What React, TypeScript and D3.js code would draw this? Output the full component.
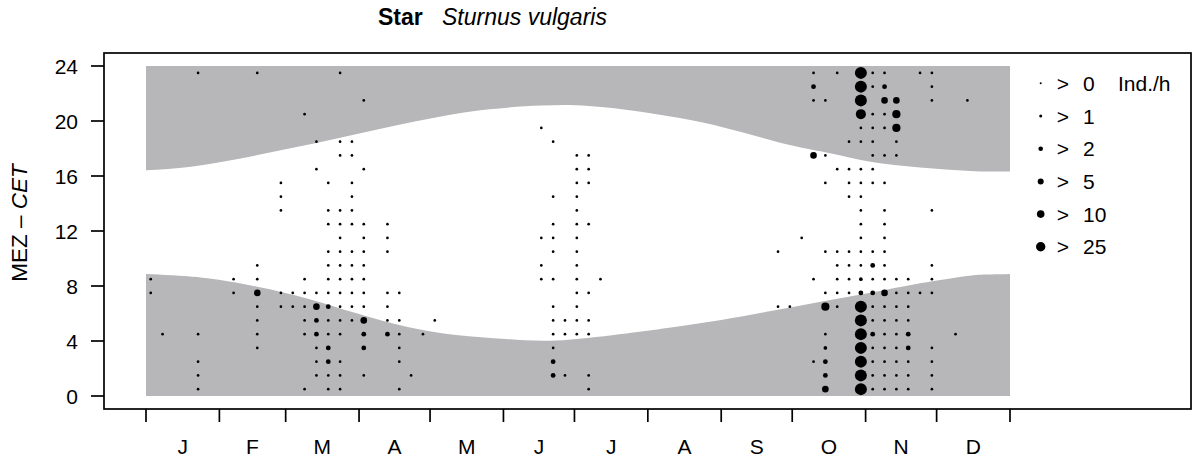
import React from 'react';
import * as d3 from 'd3';

const W = 1196;
const H = 461;

// Axis content
const monthLabels = ['J', 'F', 'M', 'A', 'M', 'J', 'J', 'A', 'S', 'O', 'N', 'D'];
const monthStartDays = [1, 32, 60, 91, 121, 152, 182, 213, 244, 274, 305, 335, 366];
const hourTicks = [0, 4, 8, 12, 16, 20, 24];

// Legend
const legendLabels = ['0', '1', '2', '5', '10', '25'];
const legendRadii = [1.0, 1.5, 2.3, 3.0, 3.8, 4.7];
// radius of the dot size classes used in the plot
const dotRadii = [1.35, 1.85, 2.4, 3.3, 4.1, 5.0, 6.0];

// Night boundaries (hours CET)
const sunriseDays = [1, 12, 27, 48, 69, 90, 111, 132, 153, 174, 201, 222, 244, 265, 286, 307, 328, 349, 358, 366];
const sunriseHours = [8.87, 8.78, 8.56, 7.95, 7.1, 6.01, 5.04, 4.44, 4.15, 4.03, 4.49, 4.97, 5.53, 6.18, 6.86, 7.51, 8.2, 8.75, 8.84, 8.87];
const sunsetDays = [1, 20, 41, 62, 83, 104, 125, 146, 168, 188, 210, 231, 252, 273, 290, 307, 328, 349, 366];
const sunsetHours = [16.42, 16.68, 17.28, 18.01, 18.79, 19.59, 20.31, 20.85, 21.12, 21.1, 20.68, 20.07, 19.22, 18.25, 17.65, 17.04, 16.62, 16.37, 16.32];

// Observations: [pentad (0..72), hour bin (0..23), size class]
const winterSpringCells: [number, number, number][] = [
  [0, 8, 0], [0, 7, 0],
  [1, 4, 0],
  [4, 23, 0], [4, 4, 0], [4, 2, 0], [4, 1, 0], [4, 0, 0],
  [7, 8, 0], [7, 7, 0],
  [9, 23, 0], [9, 9, 0], [9, 8, 0], [9, 7, 3], [9, 6, 0], [9, 5, 0], [9, 4, 0], [9, 3, 0],
  [11, 15, 0], [11, 14, 0], [11, 13, 0], [11, 7, 0], [11, 6, 0],
  [12, 7, 0], [12, 6, 0],
  [13, 20, 0], [13, 8, 0], [13, 7, 0], [13, 6, 0], [13, 5, 0], [13, 4, 0], [13, 0, 0],
  [14, 18, 0], [14, 16, 0], [14, 7, 0], [14, 6, 3], [14, 5, 2], [14, 4, 2], [14, 3, 0], [14, 2, 0], [14, 1, 0],
  [15, 15, 0], [15, 13, 0], [15, 12, 0], [15, 10, 0], [15, 9, 0], [15, 8, 0], [15, 7, 0], [15, 6, 2], [15, 5, 0],
  [15, 4, 0], [15, 3, 2], [15, 2, 2], [15, 1, 0], [15, 0, 0],
  [16, 23, 0], [16, 18, 0], [16, 17, 0], [16, 13, 0], [16, 12, 0], [16, 11, 0], [16, 10, 0], [16, 9, 0], [16, 8, 0],
  [16, 7, 0], [16, 6, 0], [16, 5, 0], [16, 4, 0], [16, 2, 0], [16, 1, 0], [16, 0, 0],
  [17, 18, 0], [17, 17, 0], [17, 15, 0], [17, 14, 0], [17, 13, 0], [17, 12, 0], [17, 10, 0], [17, 9, 0], [17, 8, 0],
  [17, 7, 0], [17, 6, 0], [17, 5, 0],
  [18, 21, 0], [18, 16, 0], [18, 12, 0], [18, 11, 0], [18, 10, 0], [18, 9, 0], [18, 8, 0], [18, 7, 0], [18, 6, 0],
  [18, 5, 3], [18, 4, 2], [18, 3, 2], [18, 1, 0],
  [20, 12, 0], [20, 11, 0], [20, 10, 0], [20, 7, 0], [20, 6, 0], [20, 5, 0], [20, 4, 2],
  [21, 7, 0], [21, 5, 0], [21, 4, 0], [21, 3, 0], [21, 2, 0], [21, 0, 0],
  [22, 1, 0],
  [23, 4, 0],
  [24, 5, 0],
];

const summerCells: [number, number, number][] = [
  [33, 19, 0], [33, 11, 0], [33, 9, 0], [33, 8, 0],
  [34, 18, 0], [34, 14, 0], [34, 12, 0], [34, 11, 0], [34, 10, 0], [34, 8, 0], [34, 6, 0], [34, 5, 0], [34, 4, 0],
  [34, 3, 0], [34, 2, 2], [34, 1, 2],
  [35, 5, 0], [35, 4, 0], [35, 1, 0],
  [36, 17, 0], [36, 16, 0], [36, 15, 0], [36, 14, 0], [36, 13, 0], [36, 12, 0], [36, 11, 0], [36, 10, 0], [36, 9, 0],
  [36, 8, 0], [36, 7, 0], [36, 6, 0], [36, 5, 0], [36, 4, 0],
  [37, 17, 0], [37, 16, 0], [37, 15, 0], [37, 12, 0], [37, 7, 0], [37, 5, 0], [37, 4, 0], [37, 1, 0], [37, 0, 0],
  [38, 8, 0],
];

const autumnCells: [number, number, number][] = [
  [53, 10, 0], [53, 6, 0],
  [54, 6, 0],
  [55, 11, 0],
  [56, 23, 0], [56, 22, 2], [56, 21, 0], [56, 17, 3], [56, 8, 0], [56, 2, 0],
  [57, 21, 0], [57, 17, 0], [57, 15, 0], [57, 10, 0], [57, 7, 0], [57, 6, 4], [57, 4, 0], [57, 3, 1], [57, 2, 2],
  [57, 1, 2], [57, 0, 3],
  [58, 23, 0], [58, 16, 0], [58, 10, 0], [58, 9, 0], [58, 8, 0], [58, 7, 0], [58, 6, 0],
  [59, 18, 0], [59, 16, 0], [59, 15, 0], [59, 14, 0], [59, 10, 0], [59, 9, 0], [59, 8, 0], [59, 7, 0],
  [60, 23, 6], [60, 22, 6], [60, 21, 6], [60, 20, 5], [60, 19, 0], [60, 18, 0], [60, 16, 0], [60, 15, 0], [60, 14, 0],
  [60, 13, 0], [60, 12, 0], [60, 11, 0], [60, 10, 0], [60, 9, 0], [60, 8, 1], [60, 7, 2], [60, 6, 6], [60, 5, 6],
  [60, 4, 6], [60, 3, 6], [60, 2, 6], [60, 1, 6], [60, 0, 6],
  [61, 23, 0], [61, 22, 0], [61, 20, 0], [61, 19, 0], [61, 18, 0], [61, 17, 0], [61, 16, 0], [61, 15, 0], [61, 10, 0],
  [61, 9, 2], [61, 8, 0], [61, 7, 2], [61, 6, 0], [61, 5, 0], [61, 4, 2], [61, 3, 0], [61, 2, 0], [61, 1, 0], [61, 0, 0],
  [62, 23, 0], [62, 22, 2], [62, 21, 3], [62, 20, 0], [62, 19, 0], [62, 17, 0], [62, 15, 0], [62, 13, 0], [62, 12, 0],
  [62, 11, 0], [62, 10, 0], [62, 9, 0], [62, 8, 0], [62, 7, 3], [62, 6, 0], [62, 5, 0], [62, 4, 0], [62, 3, 0],
  [62, 2, 0], [62, 1, 0], [62, 0, 0],
  [63, 21, 3], [63, 20, 4], [63, 19, 4], [63, 18, 0], [63, 17, 0], [63, 8, 0], [63, 7, 0], [63, 6, 0], [63, 5, 0],
  [63, 4, 0], [63, 3, 0], [63, 2, 0], [63, 1, 0], [63, 0, 0],
  [64, 8, 0], [64, 7, 0], [64, 6, 0], [64, 5, 0], [64, 4, 2], [64, 3, 2], [64, 2, 0], [64, 1, 0], [64, 0, 0],
  [65, 23, 0], [65, 7, 0],
  [66, 23, 0], [66, 22, 0], [66, 21, 0], [66, 13, 0], [66, 9, 0], [66, 8, 0], [66, 7, 0], [66, 3, 0], [66, 2, 0],
  [66, 1, 0], [66, 0, 0],
  [68, 4, 0],
  [69, 21, 0],
];

const FONT = "'Liberation Sans', Arial, Helvetica, sans-serif";

export default function App() {
  const x = d3.scaleLinear().domain([1, 366]).range([146, 1010]);
  const y = d3.scaleLinear().domain([0, 24]).range([396, 66]);

  const boxL = 104, boxR = 1191, boxT = 53, boxB = 409;

  const morning = d3
    .area<number>()
    .x((_, i) => x(sunriseDays[i]))
    .y0(() => y(0))
    .y1((_, i) => y(sunriseHours[i]))
    .curve(d3.curveNatural)(sunriseDays) as string;

  const evening = d3
    .area<number>()
    .x((_, i) => x(sunsetDays[i]))
    .y0((_, i) => y(sunsetHours[i]))
    .y1(() => y(24))
    .curve(d3.curveNatural)(sunsetDays) as string;

  const cells = [...winterSpringCells, ...summerCells, ...autumnCells];
  const pentadDay = (p: number) => p * 5 + 3;

  const legendY = (i: number) => 83.3 + i * 32.7;

  return (
    <div style={{ position: 'absolute', left: 0, top: 0, width: W, height: H, background: '#fff' }}>
      <svg width={W} height={H} viewBox={`0 0 ${W} ${H}`} style={{ display: 'block', fontFamily: FONT }}>
        <rect x={0} y={0} width={W} height={H} fill="#fff" />
        <path d={morning} fill="#b7b7b9" />
        <path d={evening} fill="#b7b7b9" />

        {cells.map(([p, h, s], i) => (
          <circle key={i} cx={x(pentadDay(p))} cy={y(h + 0.5)} r={dotRadii[s]} fill="#000" />
        ))}

        <rect x={boxL} y={boxT} width={boxR - boxL} height={boxB - boxT} fill="none" stroke="#000" strokeWidth={1.7} />

        {hourTicks.map((t) => (
          <g key={t}>
            <line x1={91} x2={boxL} y1={y(t)} y2={y(t)} stroke="#000" strokeWidth={1.7} />
            <text x={78} y={y(t)} dy="0.36em" textAnchor="end" fontSize={21}>
              {t}
            </text>
          </g>
        ))}

        {monthStartDays.map((d) => (
          <line key={d} x1={x(d)} x2={x(d)} y1={boxB} y2={boxB + 13} stroke="#000" strokeWidth={1.7} />
        ))}
        {monthLabels.map((m, i) => (
          <text
            key={i}
            x={(x(monthStartDays[i]) + x(monthStartDays[i + 1])) / 2}
            y={454}
            textAnchor="middle"
            fontSize={21}
          >
            {m}
          </text>
        ))}

        <text transform="translate(27,223) rotate(-90)" textAnchor="middle" fontSize={22.5}>
          {'MEZ \u2013 '}
          <tspan fontStyle="italic">CET</tspan>
        </text>

        <text x={378} y={25} fontSize={23} fontWeight="bold">
          Star
        </text>
        <text x={442} y={25} fontSize={23} fontStyle="italic">
          Sturnus vulgaris
        </text>

        {legendLabels.map((lab, i) => (
          <g key={lab}>
            <circle cx={1040.7} cy={legendY(i)} r={legendRadii[i]} fill="#000" />
            <text x={1063} y={legendY(i)} dy="0.36em" textAnchor="middle" fontSize={21}>
              {'>'}
            </text>
            <text x={1083} y={legendY(i)} dy="0.36em" fontSize={21}>
              {lab}
            </text>
            {i === 0 && (
              <text x={1118} y={legendY(i)} dy="0.36em" fontSize={21}>
                Ind./h
              </text>
            )}
          </g>
        ))}
      </svg>
    </div>
  );
}
